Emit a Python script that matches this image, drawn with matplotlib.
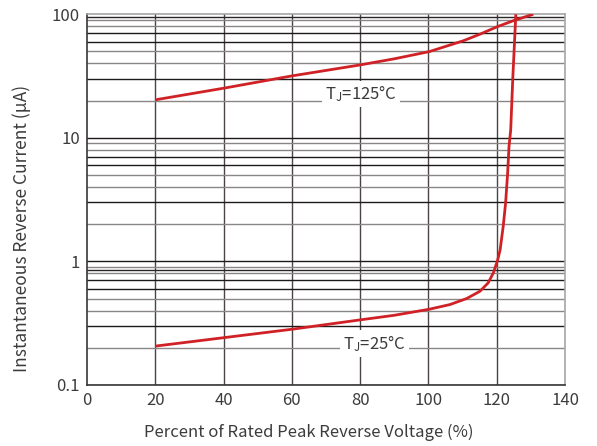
import numpy as np
import matplotlib.pyplot as plt

plt.rcParams['font.family'] = ['Noto Sans CJK SC', 'DejaVu Sans']
plt.rcParams['mathtext.default'] = 'regular'

# reverse current curves (x in %, current in uA)
x_125 = [20, 40, 60, 80, 90, 100.3, 110.2, 115.1, 120.2, 125, 130.7]
i_125 = [20.3, 25.2, 31.7, 38.9, 43.6, 49.9, 61, 69, 79.4, 89, 100]

x_25 = [20, 40, 60, 80, 90, 100.3, 106.3, 111.2, 115.1, 117.5, 119.0, 120.3,
        121.0, 121.9, 122.6, 123.2, 123.6, 124.1, 124.7, 125.6]
i_25 = [0.206, 0.241, 0.282, 0.336, 0.366, 0.41, 0.447, 0.50, 0.573, 0.67,
        0.805, 1.03, 1.24, 1.92, 2.96, 5.19, 8.5, 11.6, 30, 100]

x_ticks = [0, 20, 40, 60, 80, 100, 120, 140]
y_ticks = [0.1, 1, 10, 100]
y_tick_labels = ['0.1', '1', '10', '100']

red = '#d02226'
txt = '#3c3c3c'

fig = plt.figure(figsize=(5.97, 4.46), dpi=100)
ax = fig.add_axes([0.1457, 0.137, 0.8007, 0.831])
ax.set_yscale('log')
ax.set_xlim(0, 140)
ax.set_ylim(0.1, 100)

# grid: vertical every 20 %, horizontal on each 1..9 step of every decade
for xv in x_ticks[1:-1]:
    ax.axvline(xv, color='#4a4444', lw=1.0, zorder=1)
for dec in [0.1, 1, 10]:
    for k in range(1, 10):
        col = '#1e1a1a' if k in (1, 3, 6, 7) else '#8a8686'
        ax.axhline(dec * k, color=col, lw=1.0, zorder=1)
# a couple of extra lines that the original drawing has
ax.axhline(0.85, color='#2a2626', lw=1.0, zorder=1)
ax.axhline(95, color='#2a2626', lw=1.0, zorder=1)

ax.plot(x_125, i_125, color=red, lw=2.0, zorder=3, solid_capstyle='butt')
ax.plot(x_25, i_25, color=red, lw=2.0, zorder=3, solid_capstyle='butt')

ax.text(80.3, 22.7, 'T$_J$=125°C', ha='center', va='center', fontsize=12,
        color=txt, fontweight='light', zorder=4,
        bbox=dict(facecolor='white', edgecolor='none', pad=2))
ax.text(84.2, 0.217, 'T$_J$=25°C', ha='center', va='center', fontsize=12,
        color=txt, fontweight='light', zorder=4,
        bbox=dict(facecolor='white', edgecolor='none', pad=2))

ax.set_xticks(x_ticks)
ax.set_yticks(y_ticks)
ax.set_yticklabels(y_tick_labels)
ax.minorticks_off()
ax.tick_params(length=0, labelsize=12, labelcolor=txt, pad=5)
for lab in ax.get_xticklabels() + ax.get_yticklabels():
    lab.set_fontweight('light')

for side in ['top', 'right', 'bottom']:
    ax.spines[side].set_color('#a8a4a4')
    ax.spines[side].set_linewidth(1.2)
ax.spines['left'].set_color('#3a3636')
ax.spines['left'].set_linewidth(1.2)
ax.spines['bottom'].set_color('#3a3636')

ax.set_xlabel('Percent of Rated Peak Reverse Voltage (%)', fontsize=12,
              color=txt, fontweight='light', labelpad=11)
ax.set_ylabel('Instantaneous Reverse Current (μA)', fontsize=12.5,
              color=txt, fontweight='light', labelpad=15)
# the original labels sit a bit off the axes centre
ax.xaxis.label.set_x(0.463)
ax.yaxis.label.set_y(0.4235)

fig.savefig('out.png', dpi=100)
